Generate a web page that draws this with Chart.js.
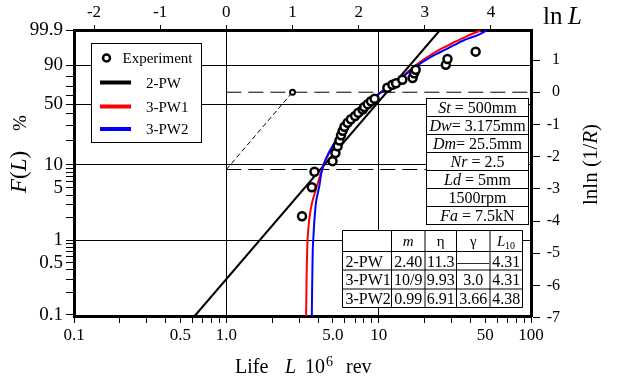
<!DOCTYPE html>
<html><head><meta charset="utf-8">
<script src="https://cdn.jsdelivr.net/npm/chart.js@4"></script>
<style>html,body{margin:0;padding:0;background:#fff}#wrap{width:630px;height:383px;position:relative}</style>
</head><body><div id="wrap"><canvas id="c"></canvas></div>
<script>
// ---------- data (L in 10^6 rev, Y = lnln(1/R)) ----------
const expL = [3.14,3.64,3.79,4.98,5.20,5.38,5.53,5.66,5.80,5.96,6.25,6.57,7.0,7.35,7.84,8.05,8.47,8.9,9.4,11.4,12.3,13.0,14.3,16.7,17.1,17.5,27.6,28.3,43.3];
const expY = [-3.85,-2.95,-2.47,-2.14,-1.89,-1.68,-1.50,-1.34,-1.20,-1.07,-0.95,-0.84,-0.74,-0.64,-0.54,-0.46,-0.37,-0.28,-0.20,0.14,0.23,0.28,0.39,0.44,0.59,0.70,0.85,1.03,1.26];

const pw2L = [0.62, 25.3];
const pw2Y = [-6.95, 1.933];

const pw31L = [3.34,3.36,3.40,3.46,3.55,3.66,3.88,4.15,4.35,4.7,5.1,5.6,6.2,7.0,7.9,9.0,10.0,11.5,12.9,14.8,16.7,19,21.5,24.5,27.6,31.5,35.4,40.5,45.6,46.8];
const pw31Y = [-6.95,-5.9,-4.8,-4.2,-3.75,-3.42,-3.01,-2.55,-2.25,-1.92,-1.62,-1.32,-1.02,-0.72,-0.46,-0.22,-0.05,0.17,0.33,0.55,0.76,0.96,1.13,1.29,1.42,1.56,1.67,1.80,1.90,1.933];

const pw32L = [3.64,3.66,3.69,3.74,3.79,3.88,4.0,4.08,4.19,4.35,4.7,5.0,5.5,6.1,7.0,7.83,9.0,10.0,11.5,12.9,14.8,16.7,19,21.5,24.5,27.6,31.5,35.4,40.5,45.6,51.6];
const pw32Y = [-6.95,-6.0,-4.97,-4.4,-3.94,-3.42,-3.1,-2.91,-2.55,-2.25,-1.88,-1.66,-1.30,-0.97,-0.68,-0.45,-0.22,-0.06,0.14,0.30,0.52,0.72,0.91,1.07,1.21,1.33,1.47,1.59,1.70,1.79,1.933];

const poleL = [2.718];
const poleY = [0];
const mReadY = -2.40;

// tick labels
const xTicks = [0.1,0.2,0.3,0.4,0.5,0.6,0.7,0.8,0.9,1,2,3,4,5,6,7,8,9,10,20,30,40,50,60,70,80,90,100];
const xLabels = {0.1:'0.1',0.5:'0.5',1:'1.0',5:'5.0',10:'10',50:'50',100:'100'};
const xGrid = [1,10];
const fTicks = [0.1,0.2,0.3,0.4,0.5,0.6,0.7,0.8,0.9,1,2,3,4,5,6,7,8,9,10,20,30,40,50,60,70,80,90,99.9];
const fLabels = {0.1:'0.1',0.5:'0.5',1:'1',5:'5',10:'10',50:'50',90:'90',99.9:'99.9'};
const fGrid = [1,10,50,90];
const lnLTicks = [-2,-1,0,1,2,3,4];
const lnlnTicks = [-7,-6,-5,-4,-3,-2,-1,0,1];

const legendNames = ['Experiment','2-PW','3-PW1','3-PW2'];
const condItalic = ['St','Dw','Dm','Nr','Ld','','Fa'];
const condText = [' = 500mm','= 3.175mm','= 25.5mm',' = 2.5',' = 5mm','1500rpm',' = 7.5kN'];
const tableHead = ['', 'm', 'η', 'γ', 'L'];
const tableRows = [
  ['2-PW','2.40','11.3','——','4.31'],
  ['3-PW1','10/9','9.93','3.0','4.31'],
  ['3-PW2','0.99','6.91','3.66','4.38']
];

// ---------- helpers ----------
const lnln = f => Math.log(-Math.log(1 - f/100));
const pts = (xs, ys) => xs.map((x,i)=>({x:x, y:ys[i]}));
const SERIF = '"Liberation Serif","Times New Roman",serif';
const YMIN = -6.95, YMAX = lnln(99.9);
const near = (a,b)=>Math.abs(a-b)<1e-6;

const overlay = {
  id:'overlay',
  afterDatasetsDraw(chart){
    const ctx = chart.ctx;
    ctx.save();
    ctx.textBaseline = 'alphabetic';
    // legend box
    ctx.fillStyle='#fff'; ctx.strokeStyle='#000'; ctx.lineWidth=1;
    ctx.fillRect(91.5,43.5,110,99); ctx.strokeRect(91.5,43.5,110,99);
    ctx.font='15px '+SERIF;
    ctx.beginPath(); ctx.arc(106.5,58,3.5,0,2*Math.PI); ctx.fillStyle='#fff'; ctx.fill();
    ctx.lineWidth=2.5; ctx.strokeStyle='#000'; ctx.stroke();
    ctx.fillStyle='#000';
    ctx.fillText(legendNames[0],122.5,63);
    const lc = ['#000','#ff0000','#0000ff'];
    const ly = [82.5,106.5,129];
    for(let i=0;i<3;i++){
      ctx.strokeStyle=lc[i]; ctx.lineWidth=4;
      ctx.beginPath(); ctx.moveTo(100,ly[i]); ctx.lineTo(131,ly[i]); ctx.stroke();
      ctx.fillText(legendNames[i+1],146,ly[i]+5);
    }
    // conditions box
    const bx=426.5, bw=102, by=98.5, rh=18;
    for(let i=0;i<condText.length;i++){
      const y0=by+i*rh;
      ctx.fillStyle='#fff'; ctx.fillRect(bx,y0,bw,rh);
      ctx.strokeStyle='#000'; ctx.lineWidth=1; ctx.strokeRect(bx,y0,bw,rh);
      ctx.fillStyle='#000';
      ctx.font='italic 16px '+SERIF; const w1=ctx.measureText(condItalic[i]).width;
      ctx.font='16px '+SERIF; const w2=ctx.measureText(condText[i]).width;
      let x=bx+(bw-w1-w2)/2;
      ctx.font='italic 16px '+SERIF; ctx.fillText(condItalic[i],x,y0+14);
      ctx.font='16px '+SERIF; ctx.fillText(condText[i],x+w1,y0+14);
    }
    // table
    const cx=[342.5,391.5,425,456.5,490,522.5];
    const ry=[230.5,251.5,270,289,307.5];
    ctx.fillStyle='#fff'; ctx.fillRect(cx[0],ry[0],cx[5]-cx[0],ry[4]-ry[0]);
    ctx.strokeStyle='#000'; ctx.lineWidth=1;
    ctx.beginPath();
    cx.forEach(x=>{ctx.moveTo(x,ry[0]);ctx.lineTo(x,ry[4]);});
    ry.forEach(y=>{ctx.moveTo(cx[0],y);ctx.lineTo(cx[5],y);});
    ctx.stroke();
    ctx.fillStyle='#000';
    ctx.textAlign='center';
    ctx.font='italic 15px '+SERIF; ctx.fillText(tableHead[1],(cx[1]+cx[2])/2,ry[0]+15);
    ctx.font='15px '+SERIF; ctx.fillText(tableHead[2],(cx[2]+cx[3])/2,ry[0]+15);
    ctx.fillText(tableHead[3],(cx[3]+cx[4])/2,ry[0]+15);
    ctx.textAlign='left';
    ctx.font='italic 15px '+SERIF; ctx.fillText(tableHead[4],497,ry[0]+15);
    ctx.font='10px '+SERIF; ctx.fillText('10',505,ry[0]+18);
    for(let r=0;r<3;r++){
      const yb=ry[r+1]+15;
      ctx.font='16px '+SERIF; ctx.textAlign='left';
      ctx.fillText(tableRows[r][0],cx[0]+3,yb);
      ctx.textAlign='center';
      for(let c=1;c<5;c++) ctx.fillText(tableRows[r][c],(cx[c]+cx[c+1])/2,yb);
    }
    ctx.restore();
  },
  afterDraw(chart){
    const ctx=chart.ctx;
    ctx.save(); ctx.fillStyle='#000'; ctx.textBaseline='alphabetic';
    // right-axis tick labels (right aligned, via the y2 scale)
    const s2 = chart.scales.y2;
    ctx.textAlign='right'; ctx.textBaseline='middle'; ctx.font='16px '+SERIF;
    lnlnTicks.forEach(v=>{ctx.fillText(String(v).replace('-','-'),560,s2.getPixelForValue(v));});
    ctx.textAlign='left'; ctx.textBaseline='alphabetic';
    // bottom title
    ctx.font='20px '+SERIF; ctx.fillText('Life',235,373);
    ctx.font='italic 20px '+SERIF; ctx.fillText('L',285,373);
    ctx.font='20px '+SERIF; ctx.fillText('10',305,373);
    ctx.font='14px '+SERIF; ctx.fillText('6',326,366);
    ctx.font='20px '+SERIF; ctx.fillText('rev',346,373);
    // top-right title
    ctx.font='25px '+SERIF; ctx.fillText('ln',543,24);
    ctx.font='italic 25px '+SERIF; ctx.fillText('L',568,24);
    // left title
    ctx.save(); ctx.translate(26,193); ctx.rotate(-Math.PI/2);
    let x=0;
    const segL=[['italic ','F'],['','('],['italic ','L'],['',')']];
    segL.forEach(s=>{ctx.font=s[0]+'23px '+SERIF; ctx.fillText(s[1],x,0); x+=ctx.measureText(s[1]).width;});
    ctx.font='19px '+SERIF; ctx.fillText('%',62,0);
    ctx.restore();
    // right title
    ctx.save(); ctx.translate(597,205); ctx.rotate(-Math.PI/2);
    x=0;
    const segR=[['','lnln (1/'],['italic ','R'],['',')']];
    segR.forEach(s=>{ctx.font=s[0]+'21px '+SERIF; ctx.fillText(s[1],x,0); x+=ctx.measureText(s[1]).width;});
    ctx.restore();
    ctx.restore();
  }
};

const common = {showLine:true, pointRadius:0, fill:false};
new Chart(document.getElementById('c'), {
  type:'scatter',
  data:{datasets:[
    {label:'Experiment', data:pts(expL,expY), pointRadius:4, pointBorderWidth:2.5, pointBorderColor:'#000', pointBackgroundColor:'#fff', order:0},
    {label:'pole', data:pts(poleL,poleY), pointRadius:2.5, pointBorderWidth:2, pointBorderColor:'#000', pointBackgroundColor:'#fff', order:1},
    {...common, label:'3-PW2', data:pts(pw32L,pw32Y), borderColor:'#0000ff', borderWidth:2, cubicInterpolationMode:'monotone', order:2},
    {...common, label:'3-PW1', data:pts(pw31L,pw31Y), borderColor:'#ff0000', borderWidth:2, cubicInterpolationMode:'monotone', order:3},
    {...common, label:'2-PW', data:pts(pw2L,pw2Y), borderColor:'#000', borderWidth:2, order:4},
    {...common, label:'m-line', data:[{x:1,y:mReadY},{x:poleL[0],y:poleY[0]}], borderColor:'#000', borderWidth:1, borderDash:[5,3], order:5},
    {...common, label:'y0', data:[{x:1,y:0},{x:100,y:0}], borderColor:'#000', borderWidth:1, borderDash:[15,7], order:6},
    {...common, label:'ym', data:[{x:1,y:mReadY},{x:100,y:mReadY}], borderColor:'#000', borderWidth:1, borderDash:[15,7], order:7}
  ]},
  options:{
    responsive:true, maintainAspectRatio:false, animation:false, devicePixelRatio:1,
    layout:{padding:0},
    plugins:{legend:{display:false}, tooltip:{enabled:false}},
    scales:{
      x:{type:'logarithmic', position:'bottom', min:0.1, max:100, bounds:'data',
        afterBuildTicks:s=>{s.ticks=xTicks.map(v=>({value:v}));},
        afterFit:s=>{s.height=67;},
        ticks:{autoSkip:false, maxRotation:0, minRotation:0, padding:2, color:'#000',
          font:{family:SERIF,size:17},
          callback:(v)=>{for(const k in xLabels){if(near(+k,v))return xLabels[k];}return '';}},
        grid:{drawOnChartArea:true, drawTicks:true, tickLength:7, tickColor:'#000', tickWidth:1,
          color:c=>(c.tick && xGrid.some(g=>near(g,c.tick.value)))?'#000':'rgba(0,0,0,0)', lineWidth:1},
        border:{display:true, color:'#000', width:3}
      },
      x2:{type:'linear', axis:'x', position:'top', min:Math.log(0.1), max:Math.log(100), bounds:'data',
        afterBuildTicks:s=>{s.ticks=lnLTicks.map(v=>({value:v}));},
        afterFit:s=>{s.height=30;},
        ticks:{autoSkip:false, maxRotation:0, padding:2, color:'#000', font:{family:SERIF,size:17},
          callback:v=>String(v)},
        grid:{drawOnChartArea:false, tickLength:5, tickColor:'#000', tickWidth:1},
        border:{display:true, color:'#000', width:3}
      },
      y:{type:'linear', position:'left', min:YMIN, max:YMAX, bounds:'data',
        afterBuildTicks:s=>{s.ticks=fTicks.map(f=>({value:lnln(f)}));},
        afterFit:s=>{s.width=74;},
        ticks:{autoSkip:false, padding:3, color:'#000', font:{family:SERIF,size:19},
          callback:(v,i)=>fLabels[fTicks[i]]||''},
        grid:{drawOnChartArea:true, tickLength:8, tickColor:'#000', tickWidth:1,
          color:c=>(c.tick && fGrid.some(g=>near(lnln(g),c.tick.value)))?'#000':'rgba(0,0,0,0)', lineWidth:1},
        border:{display:true, color:'#000', width:3}
      },
      y2:{type:'linear', position:'right', min:YMIN, max:YMAX, bounds:'data',
        afterBuildTicks:s=>{s.ticks=lnlnTicks.map(v=>({value:v}));},
        afterFit:s=>{s.width=99;},
        ticks:{display:false},
        grid:{drawOnChartArea:false, drawTicks:true, tickLength:9, tickColor:'#000', tickWidth:1},
        border:{display:true, color:'#000', width:3}
      }
    }
  },
  plugins:[overlay]
});
</script></body></html>
